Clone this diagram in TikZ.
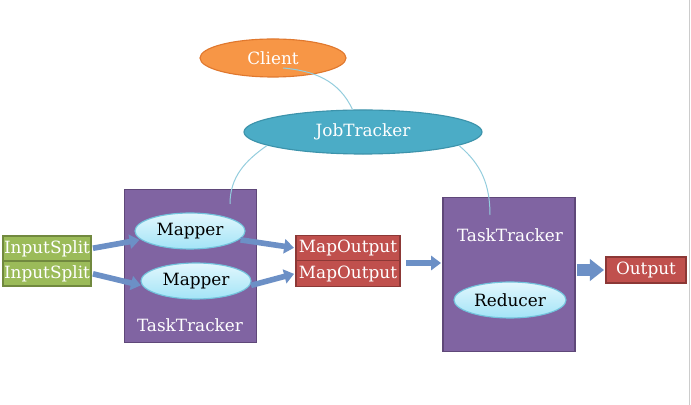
\documentclass[tikz,border=0pt]{standalone}
\usepackage{fontspec}
\setmainfont{DejaVu Serif}
\usetikzlibrary{shapes.geometric,arrows.meta}
\definecolor{clientorange}{HTML}{F79646}
\definecolor{clientedge}{HTML}{E0782E}
\definecolor{jobblue}{HTML}{4BACC6}
\definecolor{jobedge}{HTML}{3C93AB}
\definecolor{trackerpurple}{HTML}{8064A2}
\definecolor{trackeredge}{HTML}{5F4879}
\definecolor{splitgreen}{HTML}{9BBB59}
\definecolor{splitedge}{HTML}{71893F}
\definecolor{outred}{HTML}{C0504D}
\definecolor{outedge}{HTML}{8C3836}
\definecolor{flowblue}{HTML}{6C90C6}
\definecolor{linkblue}{HTML}{93CDDD}
\definecolor{taskcyan}{HTML}{A3E4F7}
\definecolor{taskpale}{HTML}{E2F7FD}
\definecolor{taskedge}{HTML}{72C3DC}
\tikzset{
  lbl/.style={font=\fontsize{12}{14}\selectfont},
  oval/.style={ellipse,draw,line width=0.8pt,inner sep=0pt,lbl},
  task/.style={oval,draw=taskedge,top color=taskpale,bottom color=taskcyan,
    minimum width=2.75cm,minimum height=0.9cm},
  tracker/.style={draw=trackeredge,fill=trackerpurple,line width=0.8pt,
    minimum width=3.3cm,minimum height=3.83cm},
  slab/.style={draw,line width=0.8pt,inner sep=0pt,text=white,lbl},
  split/.style={slab,draw=splitedge,fill=splitgreen,
    minimum width=2.2cm,minimum height=0.625cm},
  mapout/.style={slab,draw=outedge,fill=outred,
    minimum width=2.6cm,minimum height=0.64cm},
  flow/.style={flowblue,line width=4pt,-{Triangle[length=7pt,width=10pt]},
    shorten <=1pt,shorten >=1pt},
  link/.style={linkblue,line width=0.7pt}
}
\begin{document}
\begin{tikzpicture}[x=0.025cm,y=-0.025cm]
  \useasboundingbox (0,0) rectangle (691,405);
  \fill[white] (0,0) rectangle (691,405);
  \draw[black!20,line width=1.2pt] (689.5,0) -- (689.5,405);

  \node[oval,draw=clientedge,fill=clientorange,text=white,
    minimum width=3.65cm,minimum height=0.95cm] (client) at (273,58) {Client};
  \node[oval,draw=jobedge,fill=jobblue,text=white,
    minimum width=5.95cm,minimum height=1.1cm] (jobtracker) at (363,132) {JobTracker};

  \node[tracker] (tt1) at (190.5,266) {};
  \node[tracker] (tt2) at (509,274.5) {};
  \node[lbl,text=white] (tt1label) at (190,325) {TaskTracker};
  \node[lbl,text=white] (tt2label) at (510,235) {TaskTracker};

  \node[task] (mapper1) at (190,231) {Mapper};
  \node[task] (mapper2) at (196,281) {Mapper};
  \node[task,minimum width=2.8cm] (reducer) at (510,300) {Reducer};

  \node[split] (split1) at (47,248.5) {InputSplit};
  \node[split] (split2) at (47,273.5) {InputSplit};
  \node[mapout] (mapout1) at (348,248) {MapOutput};
  \node[mapout] (mapout2) at (348,273.5) {MapOutput};
  \node[slab,draw=outedge,fill=outred,minimum width=2cm,minimum height=0.65cm]
    (output) at (646,270) {Output};

  \coordinate (clientfoot) at (283,68);
  \coordinate (tt1top) at (230,204);
  \coordinate (tt2top) at (490,215);
  \draw[link] (clientfoot) to[out=-5,in=115] (jobtracker.115);
  \draw[link] (jobtracker.188) to[out=215,in=90] (tt1top);
  \draw[link] (jobtracker.-8) to[out=-40,in=90] (tt2top);

  \draw[flow] (split1.east) -- (mapper1.190);
  \draw[flow] (split2.east) -- (mapper2.185);
  \draw[flow] (mapper1.-10) -- (mapout1.west);
  \draw[flow] (mapper2.-5) -- (mapout2.west);
  \coordinate (mapjoin) at (405,263);
  \draw[flow,line width=4.5pt] (mapjoin) -- (tt2.west |- mapjoin);
  \draw[flow,line width=8pt,-{Triangle[length=10pt,width=15pt]}]
    (tt2.east |- output.west) -- (output.west);
\end{tikzpicture}
\end{document}
